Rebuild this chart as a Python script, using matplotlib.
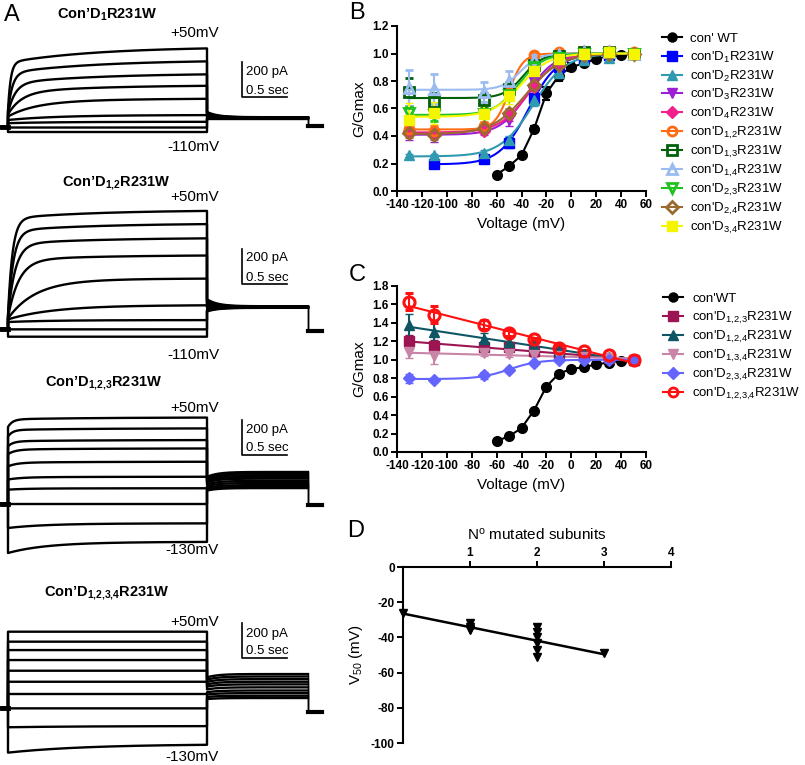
import numpy as np
import matplotlib
matplotlib.use('Agg')
import matplotlib.pyplot as plt
from matplotlib.lines import Line2D

plt.rcParams.update({
    'font.family': ['Liberation Sans', 'DejaVu Sans'],
    'mathtext.fontset': 'custom',
    'mathtext.rm': 'Liberation Sans',
    'mathtext.it': 'Liberation Sans:italic',
    'mathtext.bf': 'Liberation Sans:bold',
    'mathtext.default': 'regular',
    'axes.unicode_minus': False,
})

# ---- panel A : current traces (pA, relative to holding) ----
a_titles = ["Con’D$_{\\mathbf{1}}$R231W", "Con’D$_{\\mathbf{1{,}2}}$R231W",
            "Con’D$_{\\mathbf{1{,}2{,}3}}$R231W", "Con’D$_{\\mathbf{1{,}2{,}3{,}4}}$R231W"]
a_top_labels = ["+50mV", "+50mV", "+50mV", "+50mV"]
a_bot_labels = ["-110mV", "-110mV", "-130mV", "-130mV"]
a_steady = [
    [459, 383, 307, 240, 164, 69, 30, -3, -29],
    [680, 604, 522, 423, 290, 137, 51, -2, -44],
    [495, 433, 366, 318, 242, 156, 90, 0, -110, -215],
    [436, 379, 331, 274, 213, 150, 80, -2, -103, -206],
]
a_start = [
    [97, 90, 80, 72, 60, 40, 22, -3, -29],
    [80, 75, 70, 65, 60, 55, 40, -2, -44],
    [440, 385, 330, 285, 215, 140, 82, 0, -137, -280],
    [436, 379, 331, 274, 213, 150, 80, -2, -110, -255],
]
a_tau = [
    [0.03, 0.05, 0.08, 0.15, 0.3, 0.5, 0.5, 0.5, 0.5],
    [0.05, 0.06, 0.08, 0.12, 0.3, 0.5, 0.5, 0.5, 0.5],
    [0.05, 0.05, 0.06, 0.08, 0.1, 0.15, 0.2, 0.3, 0.4, 0.4],
    [0.2, 0.2, 0.2, 0.2, 0.2, 0.2, 0.2, 0.2, 0.8, 0.8],
]
a_fast_frac = [0.75, 0.92, 0.8, 0.5]
a_tail_start = [
    [86, 80, 74, 68, 62, 56, 52, 50, 48],
    [170, 160, 150, 140, 130, 120, 110, 105, 100],
    [155, 148, 140, 131, 123, 112, 102, 92, 83, 77],
    [175, 162, 149, 135, 122, 106, 90, 77, 63, 51],
]
a_tail_end = [
    [56, 55, 54, 53, 52, 51, 50, 49, 48],
    [130, 128, 127, 126, 125, 124, 123, 122, 121],
    [183, 175, 165, 155, 145, 132, 120, 108, 98, 91],
    [194, 180, 165, 150, 135, 118, 100, 85, 70, 57],
]
a_final = [6, -11, -6, -23]

# ---- panel B : G/Gmax ----
v_mut = [-130, -110, -70, -50, -30, -10, 10, 30, 50]
v_wt = [-60, -50, -40, -30, -20, -10, 0, 10, 20, 30, 40, 50]
b_wt = [0.12, 0.18, 0.26, 0.45, 0.71, 0.84, 0.90, 0.93, 0.96, 0.98, 0.99, 1.0]
b_wt_err = [0.01, 0.01, 0.02, 0.02, 0.05, 0.04, 0.03, 0.02, 0.02, 0.01, 0.01, 0]
b_labels = ["con' WT", "con'D$_1$R231W", "con'D$_2$R231W", "con'D$_3$R231W",
            "con'D$_4$R231W", "con'D$_{1{,}2}$R231W", "con'D$_{1{,}3}$R231W",
            "con'D$_{1{,}4}$R231W", "con'D$_{2{,}3}$R231W", "con'D$_{2{,}4}$R231W",
            "con'D$_{3{,}4}$R231W"]
b_vals = [
    [np.nan, 0.20, 0.23, 0.35, 0.68, 0.90, 0.97, 0.99, 1.0],
    [0.26, 0.26, 0.28, 0.37, 0.66, 0.86, 0.95, 0.97, 1.0],
    [0.42, 0.40, 0.44, 0.52, 0.79, 0.93, 0.99, 1.0, 1.0],
    [0.44, 0.42, 0.44, 0.55, 0.76, 0.93, 0.99, 1.0, 1.0],
    [0.45, 0.44, 0.47, 0.72, 0.99, 1.01, 1.02, 1.02, 1.01],
    [0.72, 0.65, 0.66, 0.74, 0.92, 0.98, 1.01, 1.01, 1.0],
    [0.75, 0.74, 0.72, 0.80, 0.95, 0.99, 1.01, 1.01, 1.0],
    [0.57, 0.55, 0.56, 0.70, 0.90, 0.97, 1.0, 1.0, 1.0],
    [0.42, 0.41, 0.46, 0.57, 0.77, 0.92, 0.99, 1.0, 1.0],
    [0.52, 0.57, 0.56, 0.69, 0.87, 0.96, 1.0, 1.01, 1.0],
]
b_errs = [
    [np.nan, 0.02, 0.02, 0.04, 0.03, 0.02, 0.01, 0.01, 0],
    [0.01, 0.01, 0.02, 0.03, 0.04, 0.03, 0.02, 0.01, 0],
    [0.05, 0.04, 0.03, 0.05, 0.04, 0.02, 0.01, 0.01, 0],
    [0.03, 0.03, 0.02, 0.04, 0.03, 0.02, 0.01, 0.01, 0],
    [0.04, 0.03, 0.03, 0.04, 0.02, 0.01, 0.01, 0.01, 0],
    [0.10, 0.06, 0.05, 0.05, 0.03, 0.02, 0.01, 0.01, 0],
    [0.13, 0.11, 0.07, 0.07, 0.04, 0.02, 0.01, 0.01, 0],
    [0.04, 0.04, 0.03, 0.04, 0.03, 0.02, 0.01, 0.01, 0],
    [0.03, 0.03, 0.02, 0.03, 0.03, 0.02, 0.01, 0.01, 0],
    [0.12, 0.08, 0.06, 0.06, 0.04, 0.02, 0.01, 0.01, 0],
]
b_colors = ['black', '#0000ff', '#2f9ab0', '#9b1fd6', '#f0208c', '#ff6a13',
            '#00600a', '#9bbcf0', '#1fc21f', '#9a6a2e', '#f5f500']
b_markers = ['o', 's', '^', 'v', 'D', 'o', 's', '^', 'v', 'D', 's']
b_open = [False, False, False, False, False, True, True, True, True, True, False]

# ---- panel C ----
c_wt = [0.12, 0.17, 0.26, 0.45, 0.71, 0.85, 0.90, 0.92, 0.95, 0.97, 0.99, 1.0]
c_labels = ["con'WT", "con'D$_{1{,}2{,}3}$R231W", "con'D$_{1{,}2{,}4}$R231W",
            "con'D$_{1{,}3{,}4}$R231W", "con'D$_{2{,}3{,}4}$R231W",
            "con'D$_{1{,}2{,}3{,}4}$R231W"]
c_vals = [
    [1.20, 1.15, 1.14, 1.14, 1.10, 1.07, 1.04, 1.02, 1.0],
    [1.38, 1.30, 1.23, 1.19, 1.15, 1.10, 1.06, 1.03, 1.0],
    [1.08, 1.04, 1.07, 1.06, 1.05, 1.04, 1.03, 1.02, 1.0],
    [0.80, 0.78, 0.83, 0.89, 0.97, 1.0, 1.0, 1.0, 1.0],
    [1.63, 1.49, 1.38, 1.29, 1.22, 1.13, 1.10, 1.05, 1.0],
]
c_errs = [
    [0.07, 0.06, 0.04, 0.04, 0.03, 0.02, 0.02, 0.01, 0],
    [0.12, 0.12, 0.06, 0.05, 0.03, 0.02, 0.02, 0.01, 0],
    [0.06, 0.09, 0.03, 0.03, 0.02, 0.02, 0.01, 0.01, 0],
    [0.05, 0.02, 0.04, 0.02, 0.02, 0.01, 0.01, 0.01, 0],
    [0.09, 0.09, 0.05, 0.03, 0.02, 0.02, 0.01, 0.01, 0],
]
c_colors = ['black', '#9c1452', '#0f5665', '#c985a8', '#6464ff', '#ff1010']
c_markers = ['o', 's', '^', 'v', 'D', 'o']
c_open = [False, False, False, False, False, True]
c_fit = ['line', 'line', 'line', 'boltz', 'line']

# ---- panel D : V50 vs number of mutated subunits ----
d_n = [0, 1, 1, 1, 1, 2, 2, 2, 2, 2, 2, 3]
d_v50 = [-26, -32, -34, -35, -36, -34, -37, -40, -43, -47, -51, -49]

W, H = 805, 765
fig = plt.figure(figsize=(W / 100, H / 100), dpi=100)


def box(l, t, r, b):
    return [l / W, 1 - b / H, (r - l) / W, (b - t) / H]


def fx(x):
    return x / W


def fy(y):
    return 1 - y / H


def boltz_fit(v, g):
    v = np.asarray(v, float)
    g = np.asarray(g, float)
    ok = ~np.isnan(g)
    v, g = v[ok], g[ok]
    vh = np.arange(-80, 0.01, 0.25)[:, None, None]
    k = np.arange(2, 20.01, 0.1)[None, :, None]
    s = 1 / (1 + np.exp((vh - v) / k))
    a = ((g - s) * (1 - s)).sum(-1) / ((1 - s) ** 2).sum(-1)
    res = ((a[..., None] + (1 - a[..., None]) * s - g) ** 2).sum(-1)
    i, j = np.unravel_index(np.argmin(res), res.shape)
    vv = np.linspace(v.min(), v.max(), 200)
    sv = 1 / (1 + np.exp((vh[i, 0, 0] - vv) / k[0, j, 0]))
    return vv, a[i, j] + (1 - a[i, j]) * sv


# ================= panel A =================
PX_S = 90.0          # pixels per second
PA_PX = 200 / 35.0   # pA per pixel
T_STEP = 199 / PX_S
T_TAIL = 101 / PX_S
bands = [(0, 165), (165, 370), (370, 575), (575, 765)]
base_px = [127, 329, 504, 708]
bar_px = [97, 284, 455, 658]
txt_px = [(72, 91), (258, 278), (430, 448), (634, 651)]
title_px = [(107, 15), (116, 183), (104, 383), (107, 593)]
top_px = [33, 197, 408, 622]
bot_px = [147, 355, 550, 757]

t_step = np.linspace(0, T_STEP, 500)
t_tail = np.linspace(0, T_TAIL, 250)
for p in range(4):
    t0, b0 = bands[p]
    ax = fig.add_axes(box(0, t0, 335, b0))
    ax.set_xlim(-8 / PX_S, 327 / PX_S)
    ax.set_ylim((base_px[p] - b0) * PA_PX, (base_px[p] - t0) * PA_PX)
    ax.axis('off')
    f = a_fast_frac[p]
    for i in range(len(a_steady[p])):
        ss, st, tau = a_steady[p][i], a_start[p][i], a_tau[p][i]
        i_step = ss - (ss - st) * (f * np.exp(-t_step / tau) + (1 - f) * np.exp(-t_step / 1.0))
        te, ts_ = a_tail_end[p][i], a_tail_start[p][i]
        i_tail = te + (ts_ - te) * np.exp(-t_tail / 0.12)
        tt = np.concatenate([[-0.07, 0], t_step, T_STEP + t_tail])
        ii = np.concatenate([[0, 0], i_step, i_tail])
        ax.plot(tt, ii, color='black', lw=1.7, clip_on=False)
        ax.plot([T_STEP + T_TAIL, T_STEP + T_TAIL], [i_tail[-1], a_final[p]],
                color='black', lw=0.8, clip_on=False)
    ax.plot([-0.07, 0], [0, 0], color='black', lw=3.5, clip_on=False)
    ax.plot([T_STEP + T_TAIL, T_STEP + T_TAIL + 0.15], [a_final[p], a_final[p]],
            color='black', lw=3, clip_on=False)
    # scale bar
    sx = (242 - 8) / PX_S
    sy = (base_px[p] - bar_px[p]) * PA_PX
    ax.plot([sx, sx, sx + 0.5], [sy + 200, sy, sy], color='black', lw=1.2, clip_on=False)
    fig.text(fx(246), fy(txt_px[p][0]), '200 pA', fontsize=9.5, va='center')
    fig.text(fx(246), fy(txt_px[p][1]), '0.5 sec', fontsize=9.5, va='center')
    fig.text(fx(title_px[p][0]), fy(title_px[p][1]), a_titles[p], fontsize=10.5,
             fontweight='bold', ha='center', va='center')
    fig.text(fx(219), fy(top_px[p]), a_top_labels[p], fontsize=11, ha='right', va='center')
    fig.text(fx(219), fy(bot_px[p]), a_bot_labels[p], fontsize=11, ha='right', va='center')


def style_axes(ax):
    for s in ['top', 'right']:
        ax.spines[s].set_visible(False)
    for s in ['left', 'bottom']:
        ax.spines[s].set_linewidth(1.5)
    ax.tick_params(direction='out', length=4, width=1.4, pad=2)
    for lab in ax.get_xticklabels() + ax.get_yticklabels():
        lab.set_fontweight('bold')
        lab.set_fontsize(8.5)


def legend_rows(x_mark, x_text, y0, pitch, labels, colors, markers, opens, ms):
    for i in range(len(labels)):
        y = y0 + i * pitch
        fig.add_artist(Line2D([fx(x_mark - 10), fx(x_mark + 10)], [fy(y), fy(y)],
                              transform=fig.transFigure, color=colors[i], lw=1.5))
        fig.add_artist(Line2D([fx(x_mark)], [fy(y)], transform=fig.transFigure,
                              marker=markers[i], color=colors[i], ms=ms,
                              mfc='none' if opens[i] else colors[i], mew=2 if opens[i] else 1))
        fig.text(fx(x_text), fy(y + 5), labels[i], fontsize=9.5, va='baseline')


# ================= panel B =================
axb = fig.add_axes(box(397, 26, 646, 191))
axb.errorbar(v_wt, b_wt, yerr=b_wt_err, fmt='o-', color='black', ms=7, lw=1.5,
             capsize=3, elinewidth=1.5, capthick=1.5, zorder=2)
for i in range(10):
    c = b_colors[i + 1]
    vv, gg = boltz_fit(v_mut, b_vals[i])
    axb.plot(vv, gg, color=c, lw=1.5, zorder=3)
    axb.errorbar(v_mut, b_vals[i], yerr=b_errs[i], fmt=b_markers[i + 1], color=c,
                 mfc='none' if b_open[i + 1] else c, mew=2 if b_open[i + 1] else 1,
                 ms=6.5, capsize=3, elinewidth=1.5, capthick=1.5, zorder=4, clip_on=False)
axb.set_xlim(-140, 60)
axb.set_ylim(0, 1.2)
axb.set_xticks(np.arange(-140, 61, 20))
axb.set_yticks(np.arange(0, 1.21, 0.2))
axb.set_yticklabels(['%.1f' % y for y in np.arange(0, 1.21, 0.2)])
style_axes(axb)
axb.set_xlabel('Voltage (mV)', fontsize=11, labelpad=4)
axb.set_ylabel('G/Gmax', fontsize=11, labelpad=4)
legend_rows(672, 690, 36.7, 18.9, b_labels, b_colors, b_markers, b_open, 6.5)

# ================= panel C =================
axc = fig.add_axes(box(397, 286, 646, 452))
axc.plot(v_wt, c_wt, 'o-', color='black', ms=7, lw=1.5, zorder=2)
for i in range(5):
    c = c_colors[i + 1]
    if c_fit[i] == 'line':
        coef = np.polyfit(v_mut, c_vals[i], 1)
        vv = np.array([v_mut[0], v_mut[-1]])
        axc.plot(vv, np.polyval(coef, vv), color=c, lw=1.5, zorder=3)
    else:
        vv, gg = boltz_fit(v_mut, c_vals[i])
        axc.plot(vv, gg, color=c, lw=1.5, zorder=3)
    axc.errorbar(v_mut, c_vals[i], yerr=c_errs[i], fmt=c_markers[i + 1], color=c,
                 mfc='none' if c_open[i + 1] else c, mew=2.2 if c_open[i + 1] else 1,
                 ms=8 if c_open[i + 1] else 6.5, capsize=3, elinewidth=1.5,
                 capthick=1.5, zorder=4, clip_on=False)
axc.set_xlim(-140, 60)
axc.set_ylim(0, 1.8)
axc.set_xticks(np.arange(-140, 61, 20))
axc.set_yticks(np.arange(0, 1.81, 0.2))
axc.set_yticklabels(['%.1f' % y for y in np.arange(0, 1.81, 0.2)])
style_axes(axc)
axc.set_xlabel('Voltage (mV)', fontsize=11, labelpad=4)
axc.set_ylabel('G/Gmax', fontsize=11, labelpad=4)
legend_rows(673, 692, 297, 19, c_labels, c_colors, c_markers, c_open, 6.5)

# ================= panel D =================
axd = fig.add_axes(box(403, 567, 671, 743))
coef = np.polyfit(d_n, d_v50, 1)
nn = np.array([min(d_n), max(d_n)])
axd.plot(nn, np.polyval(coef, nn), color='black', lw=1.8)
axd.plot(d_n, d_v50, 'v', color='black', ms=5.5, clip_on=False)
axd.set_xlim(0, 4)
axd.set_ylim(-100, 0)
axd.spines['bottom'].set_visible(False)
axd.spines['right'].set_visible(False)
axd.spines['top'].set_linewidth(1.5)
axd.spines['left'].set_linewidth(1.5)
axd.xaxis.tick_top()
axd.xaxis.set_label_position('top')
axd.set_xticks([1, 2, 3, 4])
axd.set_yticks(np.arange(-100, 1, 20))
axd.tick_params(direction='out', length=4, width=1.4, pad=2)
for lab in axd.get_xticklabels() + axd.get_yticklabels():
    lab.set_fontweight('bold')
    lab.set_fontsize(8.5)
axd.set_xlabel('N$^{o}$ mutated subunits', fontsize=11, labelpad=5)
axd.set_ylabel('V$_{50}$ (mV)', fontsize=11, labelpad=4)

# panel letters
fig.text(fx(4), fy(15), 'A', fontsize=17, va='center')
fig.text(fx(349), fy(13), 'B', fontsize=17, va='center')
fig.text(fx(349), fy(275), 'C', fontsize=17, va='center')
fig.text(fx(347), fy(531), 'D', fontsize=17, va='center')

fig.savefig('out.png', dpi=100)
